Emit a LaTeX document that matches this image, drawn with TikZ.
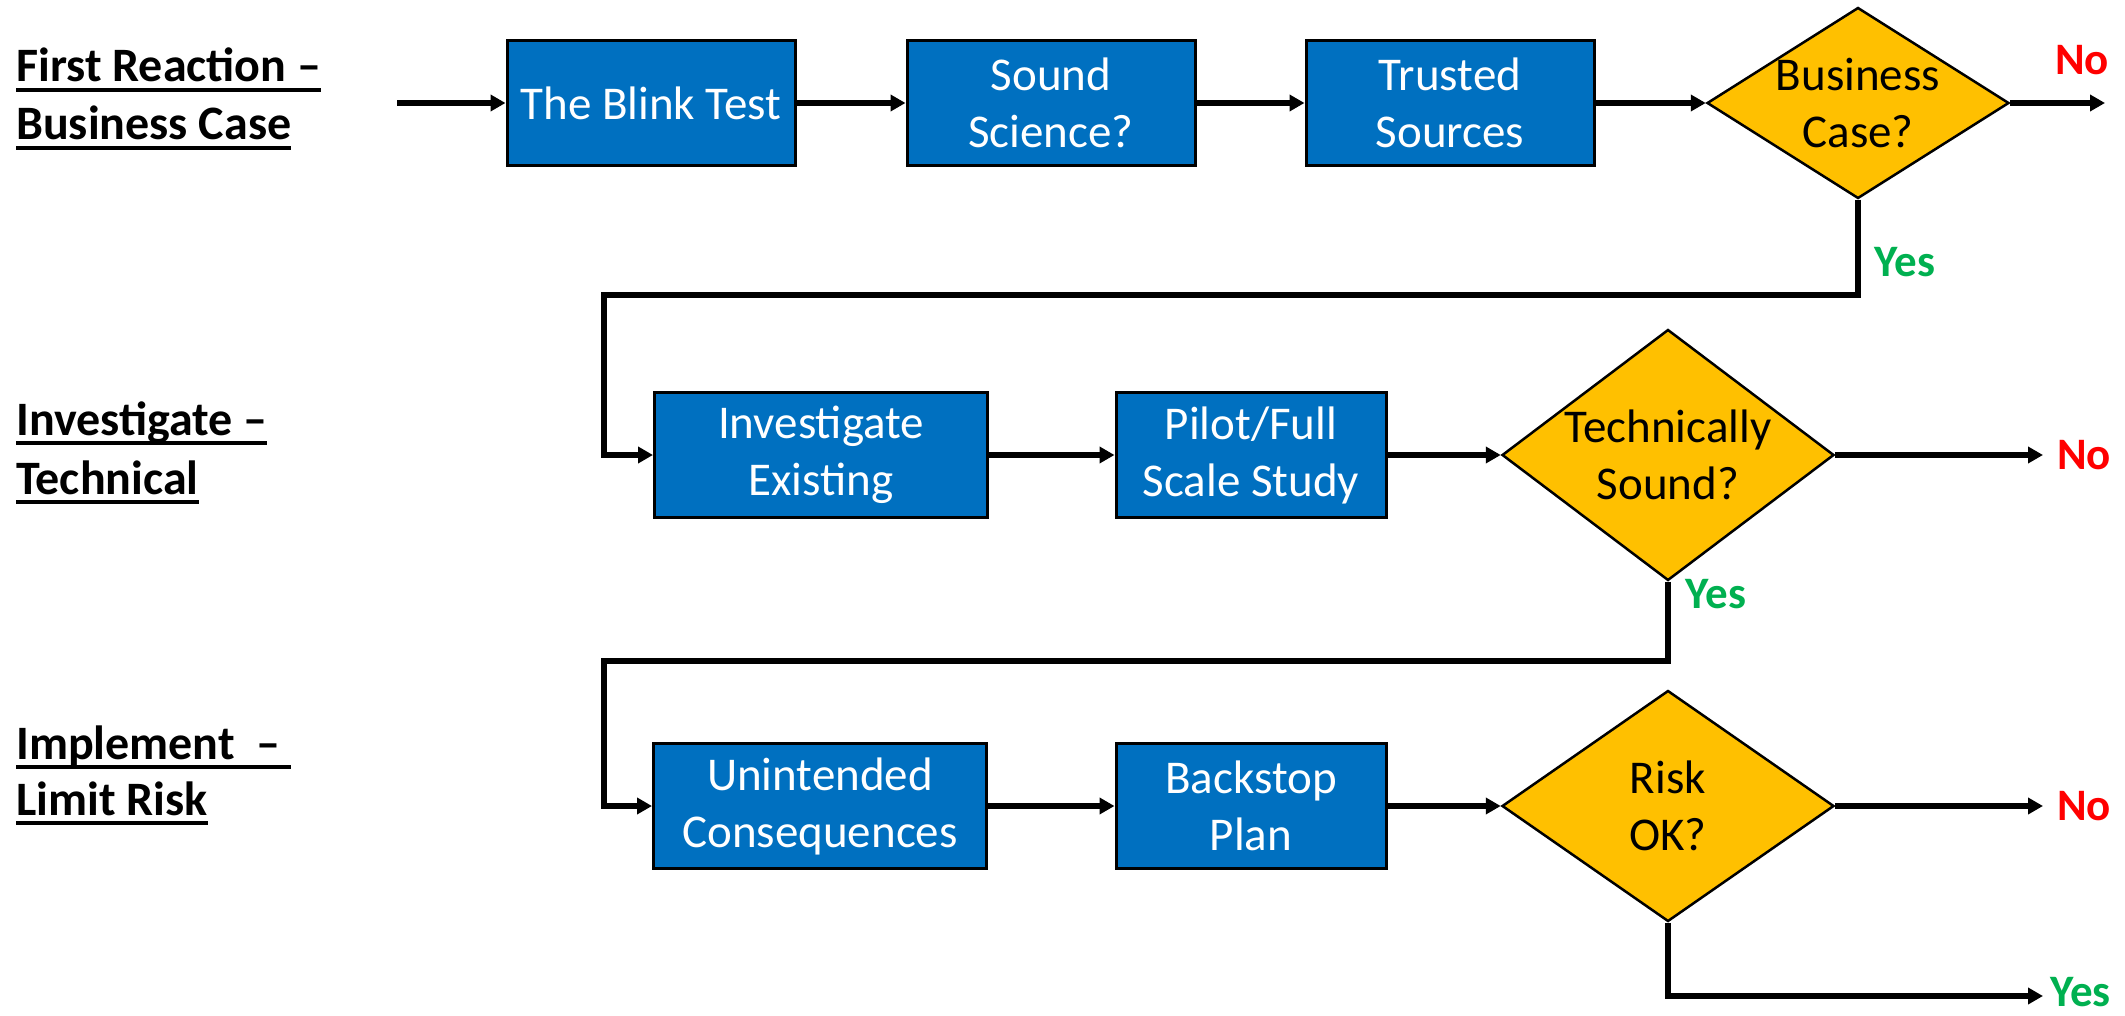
\documentclass[tikz,border=0pt]{standalone}
\usepackage{fontspec}
\setmainfont{Carlito}
\usetikzlibrary{shapes.geometric,arrows.meta}
\definecolor{boxblue}{HTML}{0070C0}
\definecolor{decgold}{HTML}{FFC000}
\definecolor{nored}{HTML}{FF0000}
\definecolor{yesgreen}{HTML}{00B050}
\newcommand{\ulx}[1]{\setbox0=\hbox{#1}\rlap{\rule[-10pt]{\wd0}{4pt}}\box0}

\begin{document}
\begin{tikzpicture}[x=1pt,y=-1pt,
  proc/.style={draw=black,line width=3pt,fill=boxblue,text=white,align=center,font=\fontsize{47}{57}\selectfont,minimum height=125pt,inner sep=0pt},
  dec/.style={diamond,draw=black,line width=2.5pt,fill=decgold,inner sep=0pt},
  dectext/.style={align=center,font=\fontsize{47}{57}\selectfont,inner sep=0pt},
  rowlab/.style={anchor=base west,inner sep=0pt,font=\fontsize{48}{57}\selectfont\bfseries},
  flow/.style={line width=5.5pt,-{Triangle[length=15pt,width=16pt]}},
  no/.style={text=nored,font=\fontsize{45}{54}\selectfont\bfseries,inner sep=0pt},
  yes/.style={no,text=yesgreen}]
  \useasboundingbox (0,0) rectangle (2125,1016);
  % row labels
  \node[rowlab] (lab1a) at (16,82) {\ulx{First Reaction –}};
  \node[rowlab] (lab1b) at (16,140) {\ulx{Business Case}};
  \node[rowlab] (lab2a) at (16,435) {\ulx{Investigate –}};
  \node[rowlab] (lab2b) at (16,494) {\ulx{Technical}};
  \node[rowlab] (lab3a) at (16,759) {\ulx{Implement\ \ –\ }};
  \node[rowlab] (lab3b) at (16,815) {\ulx{Limit Risk}};
  % steps
  \node[proc,minimum width=288pt] (blink) at (651,103) {The Blink Test};
  \node[proc,minimum width=288pt] (sound) at (1051,103) {Sound\\Science?};
  \node[proc,minimum width=288pt] (trust) at (1450,103) {Trusted\\Sources};
  \node[dec,minimum width=302pt,minimum height=191pt] (bcase) at (1858,103) {};
  \node[dectext] (bcasetxt) at (bcase) {Business\\Case?};
  \node[proc,minimum width=333pt] (invest) at (821,455) {Investigate\\Existing};
  \node[proc,minimum width=270pt] (pilot) at (1251,455) {Pilot/Full\\Scale Study};
  \node[dec,minimum width=332pt,minimum height=251pt] (tech) at (1668,455) {};
  \node[dectext] (techtxt) at (tech) {Technically\\Sound?};
  \node[proc,minimum width=333pt] (unint) at (820,806) {Unintended\\Consequences};
  \node[proc,minimum width=270pt] (backstop) at (1251,806) {Backstop\\Plan};
  \node[dec,minimum width=332pt,minimum height=231pt] (risk) at (1668,806) {};
  \node[dectext] (risktxt) at (risk) {Risk\\OK?};
  % free ends and bends
  \coordinate (start) at (397,103);
  \coordinate (no1) at (2105,103);
  \coordinate (bend1) at (604,295);
  \coordinate (no2) at (2043,455);
  \coordinate (bend2) at (604,661);
  \coordinate (no3) at (2043,806);
  \coordinate (yes3) at (2043,996);
  % connectors
  \draw[flow] (start) -- (blink);
  \draw[flow] (blink) -- (sound);
  \draw[flow] (sound) -- (trust);
  \draw[flow] (trust) -- (bcase.west);
  \draw[flow] (bcase.east) -- (no1);
  \draw[flow] (bcase.south) |- (bend1) |- (invest.west);
  \draw[flow] (invest) -- (pilot);
  \draw[flow] (pilot) -- (tech.west);
  \draw[flow] (tech.east) -- (no2);
  \draw[flow] (tech.south) |- (bend2) |- (unint.west);
  \draw[flow] (unint) -- (backstop);
  \draw[flow] (backstop) -- (risk.west);
  \draw[flow] (risk.east) -- (no3);
  \draw[flow] (risk.south) |- (yes3);
  % answers
  \node[no] (nolab1) at (2082,60) {No};
  \node[yes] (yeslab1) at (1905,262) {Yes};
  \node[no,anchor=west] (nolab2) at (2057,455) {No};
  \node[yes] (yeslab2) at (1716,594) {Yes};
  \node[no,anchor=west] (nolab3) at (2057,806) {No};
  \node[yes,anchor=west] (yeslab3) at (2050,992) {Yes};
\end{tikzpicture}
\end{document}
